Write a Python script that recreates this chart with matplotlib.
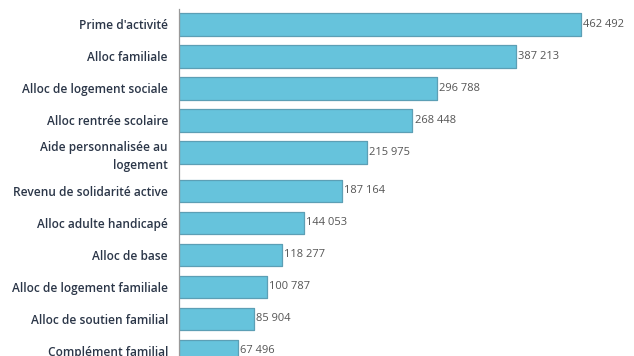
import matplotlib.pyplot as plt
import numpy as np

categories = [
    "Prime d'activité",
    "Alloc familiale",
    "Alloc de logement sociale",
    "Alloc rentrée scolaire",
    "Aide personnalisée au\nlogement",
    "Revenu de solidarité active",
    "Alloc adulte handicapé",
    "Alloc de base",
    "Alloc de logement familiale",
    "Alloc de soutien familial",
    "Complément familial",
]
values = [462492, 387213, 296788, 268448, 215975, 187164, 144053, 118277, 100787, 85904, 67496]

plt.rcParams['font.family'] = ['Open Sans', 'DejaVu Sans']

W, H = 634, 356
fig = plt.figure(figsize=(W / 100, H / 100), dpi=100)

# axes in pixel terms: left at 179, top at 9, runs past the bottom edge
top_px, bot_px = 9, 370
ax = fig.add_axes([179 / W, (H - bot_px) / H, 1 - 179 / W, (bot_px - top_px) / H])

# extra room after the two-line label
pos = []
y = 0.0
for i, c in enumerate(categories):
    pos.append(y)
    y += 1.0 + (0.19 if "\n" in c else 0.0)
pos = np.array(pos)

bars = ax.barh(pos, values, height=0.69, color='#66c3dc', edgecolor='#5c9fb5',
               linewidth=0.9, joinstyle='round')

for b, v in zip(bars, values):
    ax.text(b.get_width() + 2500, b.get_y() + b.get_height() / 2,
            f"{v:,}".replace(",", " "), va='center', ha='left',
            fontsize=8, color='#555555')

ax.set_yticks(pos)
ax.set_yticklabels(categories, fontsize=8.6, color='#2b3648',
                   fontweight='semibold', linespacing=1.5)
ax.tick_params(axis='y', length=0, pad=8)
ax.set_xticks([])

span_units = (bot_px - top_px) / 32.0
ax.set_ylim(-0.484 + span_units, -0.484)
ax.set_xlim(0, max(values) * (W - 179) / 402)

for s in ['top', 'right', 'bottom']:
    ax.spines[s].set_visible(False)
ax.spines['left'].set_color('#999999')
ax.spines['left'].set_linewidth(0.9)

fig.savefig("out.png", dpi=100)
